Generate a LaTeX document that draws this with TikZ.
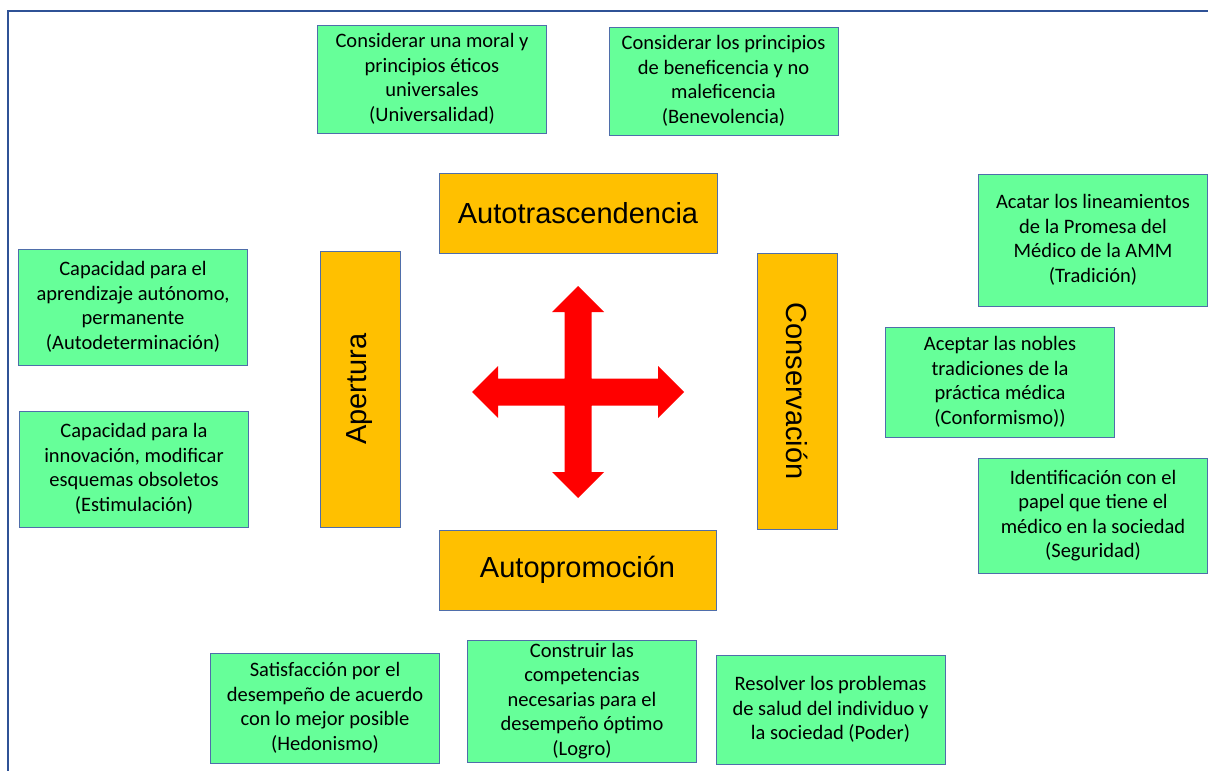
\documentclass[tikz,border=0pt]{standalone}
\usepackage{fontspec}
\setmainfont{Carlito}
\newfontfamily\arialfont{Liberation Sans}
\definecolor{verde}{RGB}{102,255,153}
\definecolor{naranja}{RGB}{255,192,0}
\definecolor{borde}{RGB}{79,110,170}
\definecolor{marco}{RGB}{47,82,150}
\begin{document}
\begin{tikzpicture}[x=1pt,y=-1pt,
	valor/.style={draw=borde,line width=1pt,fill=verde,align=center,minimum width=229pt,
		inner sep=0pt,font=\fontsize{20.5}{24.5}\selectfont},
	eje/.style={draw=borde,line width=1pt,fill=naranja,minimum height=80pt,inner sep=0pt,
		font=\arialfont\fontsize{29}{34}\selectfont}]
			\useasboundingbox (0,0) rectangle (1208,771);
			\draw[marco,line width=1.5pt] (8,771)--(8,11)--(1208,11);
			% ejes
			\node[eje,minimum width=278pt] (autotras) at (578,213) {Autotrascendencia};
			\node[eje,minimum width=277pt] (autoprom) at (577.5,570) {Autopromoción};
			\node[eje,minimum width=276pt,rotate=90] (apertura) at (360,389) {Apertura};
			\node[eje,minimum width=276pt,rotate=-90] (conserv) at (797,391) {Conservación};
			% cruz
			\foreach \a in {0,90,180,270}{
				\fill[red,shift={(578,392)},rotate=\a] (-13.5,-13.5)--(80,-13.5)--(80,-26)--(106,0)--(80,26)--(80,13.5)--(-13.5,13.5)--cycle;
			}
			% valores
			\node[valor,minimum height=108pt] (univ) at (432,79) {Considerar una moral y\\principios éticos\\universales\\(Universalidad)};
			\node[valor,minimum height=108pt] (benev) at (723.5,81) {Considerar los principios\\de beneficencia y no\\maleficencia\\(Benevolencia)};
			\node[valor,minimum height=132pt] (trad) at (1093,240) {Acatar los lineamientos\\de la Promesa del\\Médico de la AMM\\(Tradición)};
			\node[valor,minimum height=110pt] (conf) at (1000,382) {Aceptar las nobles\\tradiciones de la\\práctica médica\\(Conformismo))};
			\node[valor,minimum height=115pt] (segur) at (1093,515.5) {Identificación con el\\papel que tiene el\\médico en la sociedad\\(Seguridad)};
			\node[valor,minimum height=116pt] (autodet) at (133,307) {Capacidad para el\\aprendizaje autónomo,\\permanente\\(Autodeterminación)};
			\node[valor,minimum height=116pt] (estim) at (134,469) {Capacidad para la\\innovación, modificar\\esquemas obsoletos\\(Estimulación)};
			\node[valor,minimum height=110pt] (hedon) at (325,708) {Satisfacción por el\\desempeño de acuerdo\\con lo mejor posible\\(Hedonismo)};
			\node[valor,minimum height=122pt] (logro) at (582,701) {Construir las\\competencias\\necesarias para el\\desempeño óptimo\\(Logro)};
			\node[valor,minimum height=109pt] (poder) at (830.5,709.5) {Resolver los problemas\\de salud del individuo y\\la sociedad (Poder)};
\end{tikzpicture}
\end{document}
